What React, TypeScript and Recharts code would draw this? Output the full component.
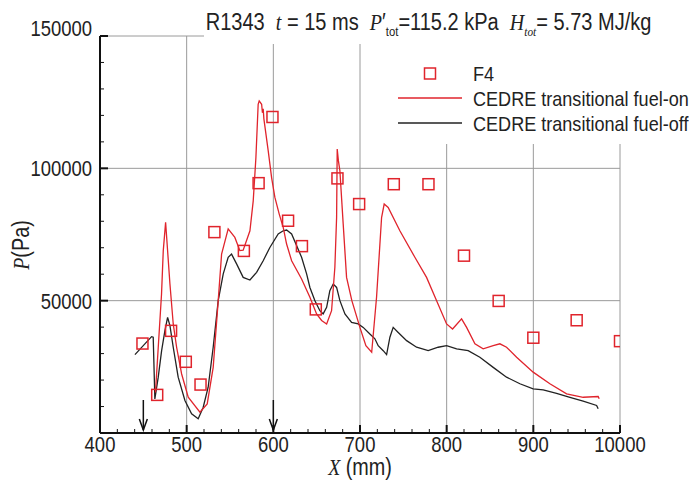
import React from 'react';
import { ComposedChart, Line, Scatter, XAxis, YAxis, ReferenceLine, ReferenceDot } from 'recharts';

// F4 measurements
const f4X = [449, 466, 482, 499, 516, 532, 566, 583, 599, 617, 633, 649, 674, 699, 739, 779, 820, 860, 900, 950, 1000];
const f4P = [33800, 14400, 38600, 26900, 18300, 75900, 68800, 94400, 119400, 80200, 70600, 46700, 96200, 86500, 94000, 94000, 67000, 49900, 36000, 42600, 34700];

// CEDRE transitional fuel-on
const onX = [464, 471, 473, 475.7, 480.7, 484.5, 488.4, 494.2, 501.8, 515.3, 523.7, 530.6, 536.4, 540.3, 547.9, 555.6, 561.4, 565.2, 573, 576.8, 579.9, 582.5, 583.7, 586.5, 587.4, 588.3, 589.1, 594.1, 598, 601.8, 606.8, 611.4, 615.3, 621.1, 632.6, 642.2, 649.9, 655.7, 661.5, 667.2, 671, 673, 673.7, 675.1, 676.8, 680.6, 684.5, 690.6, 699.9, 706.8, 713.5, 719.1, 724.9, 727.9, 732.5, 746, 763.3, 776.8, 788.4, 799.9, 806.8, 817.2, 823, 832.6, 842.1, 853.7, 861.4, 869.1, 880.7, 899.8, 919.1, 938.4, 957.5, 974.8, 976];
const onP = [15300, 52500, 68900, 79600, 56300, 41200, 32400, 22300, 13500, 7850, 11000, 24800, 50000, 67600, 77100, 73900, 68900, 69100, 76400, 87700, 104100, 124200, 125500, 124200, 121000, 122500, 118700, 106600, 96500, 89000, 82700, 77700, 71400, 65100, 58200, 51300, 45000, 42500, 41200, 46200, 62600, 81400, 107300, 102800, 99100, 79000, 58800, 50000, 39900, 33000, 30500, 51300, 81400, 86500, 85200, 76400, 66400, 58800, 50000, 41200, 39300, 43100, 39900, 33700, 31800, 33000, 33700, 32400, 28600, 23000, 18600, 14800, 13500, 13800, 12900];

// CEDRE transitional fuel-off
const offX = [440.3, 459.5, 461.4, 463.3, 467.2, 471.1, 474.9, 478, 480.7, 484.5, 490.2, 498, 505.7, 513.3, 519.1, 524.8, 530.6, 536.4, 542.2, 547.9, 551.8, 557.6, 565.2, 573, 580.7, 588.3, 596, 605.6, 611.4, 615.3, 621.1, 626.8, 632.6, 638.4, 642.2, 648, 653.7, 657.5, 661.5, 665.2, 669.1, 673, 676.8, 682.6, 690.3, 697.9, 703.7, 711.4, 717.2, 721, 726.8, 730.7, 734.5, 738.3, 744.1, 753.8, 765.3, 778.7, 790.2, 799.9, 811.5, 824.8, 838.3, 853.7, 869.1, 884.5, 899.8, 911.4, 926.8, 942.2, 957.5, 973, 974.8];
const offP = [29600, 36400, 36200, 12900, 21100, 31100, 38700, 43700, 40600, 32400, 21100, 12300, 7250, 5360, 9740, 17300, 32400, 50000, 60100, 66400, 67600, 63900, 58800, 57800, 60700, 65100, 70100, 75200, 76400, 76700, 75200, 70800, 66400, 60100, 55000, 50000, 46200, 45000, 47500, 53800, 56300, 55000, 50000, 45000, 41800, 41200, 39900, 37400, 35600, 33000, 31100, 29600, 36200, 39900, 38000, 34900, 32400, 31100, 32400, 33000, 31800, 31100, 28600, 24800, 21100, 18600, 16700, 16300, 15000, 13500, 12000, 10400, 9130];

const xMajor = [400, 500, 600, 700, 800, 900, 1000];
const xMajorLabels = ['400', '500', '600', '700', '800', '900', '10000'];
const yMajor = [50000, 100000, 150000];
const yMajorLabels = ['50000', '100000', '150000'];
const arrowX = [450, 600];

const f4Data = f4X.map((x, i) => ({ x, p: f4P[i] }));
const onData = onX.map((x, i) => ({ x, p: onP[i] }));
const offData = offX.map((x, i) => ({ x, p: offP[i] }));

const xTicks: number[] = [];
for (let v = 400; v <= 1000; v += 20) xTicks.push(v);
const yTicks: number[] = [];
for (let v = 0; v <= 150000; v += 10000) yTicks.push(v);

const RED = '#e0242c';
const SANS = '"Liberation Sans", Arial, sans-serif';
const SERIF = '"Liberation Serif", "DejaVu Serif", serif';
// the original font is a condensed grotesque, so text is squeezed horizontally
const TICK_SQUEEZE = 0.84;
const TEXT_SQUEEZE = 0.86;

const XTick = (props: any) => {
  const { x, y, payload } = props;
  const idx = xMajor.indexOf(payload.value);
  const major = idx >= 0;
  return (
    <g>
      <line x1={x} y1={y} x2={x} y2={y - (major ? 8 : 4)} stroke="#111" strokeWidth={major ? 2 : 1} />
      {major && (
        <text transform={`translate(${x},${y + 18.5}) scale(${TICK_SQUEEZE},1)`} textAnchor="middle" fontFamily={SANS} fontSize={22} fill="#222">
          {xMajorLabels[idx]}
        </text>
      )}
    </g>
  );
};

const YTick = (props: any) => {
  const { x, y, payload } = props;
  const idx = yMajor.indexOf(payload.value);
  const major = idx >= 0;
  const ty = y + 8 - (payload.value === 150000 ? 8 : 0);
  return (
    <g>
      <line x1={x} y1={y} x2={x + (major ? 8 : 4)} y2={y} stroke="#111" strokeWidth={major ? 2 : 1} />
      {major && (
        <text transform={`translate(${x - 8},${ty}) scale(${TICK_SQUEEZE},1)`} textAnchor="end" fontFamily={SANS} fontSize={22} fill="#222">
          {yMajorLabels[idx]}
        </text>
      )}
    </g>
  );
};

const Square = (props: any) => {
  const { cx, cy } = props;
  return <rect x={cx - 5.5} y={cy - 5.5} width={11} height={11} fill="none" stroke={RED} strokeWidth={1.5} />;
};

const Arrow = (props: any) => {
  const { cx, cy } = props;
  return (
    <g stroke="#111" strokeWidth={1.5} fill="none">
      <line x1={cx} y1={cy - 33} x2={cx} y2={cy - 3} />
      <polyline points={`${cx - 4},${cy - 14} ${cx},${cy - 3} ${cx + 4},${cy - 14}`} />
    </g>
  );
};

const squeezed = (k: number): React.CSSProperties => ({
  display: 'inline-block',
  transform: `scaleX(${k})`,
  transformOrigin: 'left center',
  whiteSpace: 'nowrap',
});

const App = () => {
  return (
    <div style={{ position: 'absolute', left: 0, top: 0, width: 691, height: 481, background: '#fff' }}>
      <ComposedChart width={691} height={481} margin={{ top: 36, right: 71, bottom: 0, left: 0 }}>
        <XAxis
          type="number"
          dataKey="x"
          domain={[400, 1000]}
          allowDataOverflow
          ticks={xTicks}
          interval={0}
          tickSize={0}
          tickMargin={0}
          tickLine={false}
          tick={<XTick />}
          height={48}
          axisLine={{ stroke: '#111', strokeWidth: 2 }}
        />
        <YAxis
          type="number"
          dataKey="p"
          domain={[0, 150000]}
          allowDataOverflow
          ticks={yTicks}
          interval={0}
          tickSize={0}
          tickMargin={0}
          tickLine={false}
          tick={<YTick />}
          width={100}
          axisLine={{ stroke: '#111', strokeWidth: 2 }}
        />
        {xMajor.slice(1).map((v) => (
          <ReferenceLine key={'gx' + v} x={v} stroke="#9a9a9a" strokeWidth={1} />
        ))}
        {yMajor.map((v) => (
          <ReferenceLine key={'gy' + v} y={v} stroke="#9a9a9a" strokeWidth={1} />
        ))}
        <Line data={offData} dataKey="p" type="linear" stroke="#222" strokeWidth={1.3} dot={false} isAnimationActive={false} />
        <Line data={onData} dataKey="p" type="linear" stroke={RED} strokeWidth={1.3} dot={false} isAnimationActive={false} />
        <Scatter data={f4Data} dataKey="p" shape={<Square />} isAnimationActive={false} />
        {arrowX.map((v) => (
          <ReferenceDot key={'a' + v} x={v} y={0} shape={<Arrow />} ifOverflow="visible" />
        ))}
      </ComposedChart>

      {/* title on a white band, it hides the grid behind it */}
      <div
        style={{
          position: 'absolute', left: 204, top: 0, width: 487, height: 44, background: '#fff',
          fontFamily: SANS, fontSize: 23, color: '#222', lineHeight: '44px',
        }}
      >
        <span style={{ ...squeezed(0.87), paddingLeft: 2 }}>
          R1343&nbsp;&nbsp;<i style={{ fontFamily: SERIF }}>t</i> = 15 ms&nbsp;&nbsp;<i style={{ fontFamily: SERIF }}>P</i>′
          <sub style={{ fontSize: 13 }}>tot</sub>=115.2 kPa&nbsp;&nbsp;<i style={{ fontFamily: SERIF }}>H</i>
          <sub style={{ fontSize: 13, fontFamily: SERIF, fontStyle: 'italic' }}>tot</sub>= 5.73 MJ/kg
        </span>
      </div>

      <div style={{ position: 'absolute', left: 385, top: 44, width: 306, height: 100, background: '#fff', fontFamily: SANS, fontSize: 21, color: '#222' }}>
        <svg width={80} height={100} style={{ position: 'absolute', left: 0, top: 0 }}>
          <rect x={39.5} y={24} width={11} height={11} fill="none" stroke={RED} strokeWidth={1.5} />
          <line x1={13} y1={54} x2={77} y2={54} stroke={RED} strokeWidth={1.5} />
          <line x1={13} y1={79} x2={77} y2={79} stroke="#222" strokeWidth={1.5} />
        </svg>
        <div style={{ position: 'absolute', left: 88, top: 17, lineHeight: '25px' }}>
          <div style={squeezed(TEXT_SQUEEZE)}>F4</div>
          <br />
          <div style={squeezed(TEXT_SQUEEZE)}>CEDRE transitional fuel-on</div>
          <br />
          <div style={squeezed(TEXT_SQUEEZE)}>CEDRE transitional fuel-off</div>
        </div>
      </div>

      <div
        style={{
          position: 'absolute', left: 21, top: 245, transform: `translate(-50%, -50%) rotate(-90deg) scaleX(${TEXT_SQUEEZE})`,
          fontFamily: SANS, fontSize: 23, color: '#222', whiteSpace: 'nowrap',
        }}
      >
        <i style={{ fontFamily: SERIF }}>P</i>(Pa)
      </div>
      <div
        style={{
          position: 'absolute', left: 360, top: 467, transform: `translate(-50%, -50%) scaleX(${TEXT_SQUEEZE})`,
          fontFamily: SANS, fontSize: 23, color: '#222', whiteSpace: 'nowrap',
        }}
      >
        <i style={{ fontFamily: SERIF }}>X</i> (mm)
      </div>
    </div>
  );
};

export default App;
